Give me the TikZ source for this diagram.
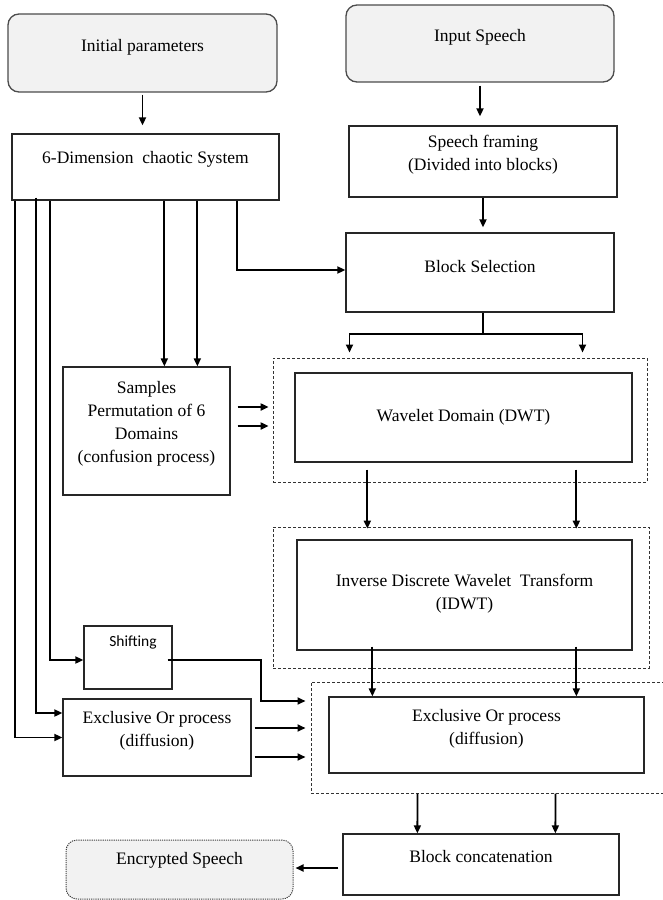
\documentclass[tikz,border=0pt]{standalone}
\usepackage{fontspec}
\setmainfont{Liberation Serif}
\newfontfamily\tnr{Liberation Serif}
\newfontfamily\calib{Carlito}
\usetikzlibrary{arrows.meta}
\begin{document}
\begin{tikzpicture}[x=1pt,y=-1pt,
 box/.style={draw=black!85, line width=1.3pt, inner sep=0pt},
 rbox/.style={box, draw=black!70, rounded corners=11pt, fill=black!5},
 ebox/.style={draw=black!75, line width=1pt, dash pattern=on 1.2pt off 1pt, rounded corners=11pt, fill=black!5, inner sep=0pt},
 grp/.style={draw=black!80, line width=1pt, dash pattern=on 3pt off 2pt, inner sep=0pt},
 lbl/.style={font=\tnr\fontsize{17.5}{23}\selectfont, align=center, inner sep=0pt},
 arr/.style={line width=1.8pt, -{Triangle[length=8pt,width=7pt]}},
 ln/.style={line width=1.8pt}]
\useasboundingbox (0,0) rectangle (662,900);

% group (dashed) boxes
\node[grp, minimum width=374pt, minimum height=124pt] (dash1) at (460,420) {};
\node[grp, minimum width=376pt, minimum height=141pt] (dash2) at (461,597.5) {};
\node[grp, minimum width=359pt, minimum height=111pt] (dash3) at (490.5,737.5) {};

% boxes
\node[rbox, minimum width=269pt, minimum height=78pt] (ip) at (142.5,53) {};
\node[lbl] (ipt) at (142.5,47) {Initial parameters};
\node[rbox, minimum width=268pt, minimum height=77pt] (is) at (480,43.5) {};
\node[lbl] (ist) at (480,37) {Input Speech};
\node[box, minimum width=267pt, minimum height=66pt] (sixd) at (145.5,167) {};
\node[lbl] (sixdt) at (145.5,159) {6-Dimension\ \ chaotic System};
\node[box, minimum width=268pt, minimum height=71pt] (sf) at (483,161.5) {};
\node[lbl] (sft) at (483,155) {Speech framing\\(Divided into blocks)};
\node[box, minimum width=268pt, minimum height=79pt] (bs) at (480,272.5) {};
\node[lbl] (bst) at (480,267) {Block Selection};
\node[box, minimum width=167pt, minimum height=128pt] (samp) at (146.5,431) {};
\node[lbl] (sampt) at (146.5,423.5) {Samples\\Permutation of 6\\Domains\\(confusion process)};
\node[box, minimum width=337pt, minimum height=89pt] (dwt) at (463.5,417.5) {};
\node[lbl] (dwtt) at (463.5,417) {Wavelet Domain (DWT)};
\node[box, minimum width=335pt, minimum height=110pt] (idwt) at (464.5,595) {};
\node[lbl] (idwtt) at (464.5,594) {Inverse Discrete Wavelet\ \ Transform\\(IDWT)};
\node[box, minimum width=88pt, minimum height=63pt] (shift) at (128,657.5) {};
\node[font=\calib\fontsize{15.5}{18}\selectfont, inner sep=0pt] (shiftt) at (133,642) {Shifting};
\node[box, minimum width=188pt, minimum height=77pt] (xorl) at (157,737.5) {};
\node[lbl] (xorlt) at (157,731) {Exclusive Or process\\(diffusion)};
\node[box, minimum width=315pt, minimum height=76pt] (xorr) at (486.5,735) {};
\node[lbl] (xorrt) at (486.5,728.5) {Exclusive Or process\\(diffusion)};
\node[box, minimum width=276pt, minimum height=61pt] (bc) at (481,864.5) {};
\node[lbl] (bct) at (481,857) {Block concatenation};
\node[ebox, minimum width=227pt, minimum height=59pt] (es) at (179.5,869.5) {};
\node[lbl] (est) at (179.5,860) {Encrypted Speech};

% connectors
\draw[arr, shorten >=8pt, shorten <=2pt] (ip.south) -- (ip.south |- sixd.north);
\draw[arr, shorten >=9pt, shorten <=3pt] (is.south) -- (is.south |- sf.north);
\draw[arr, shorten >=5pt] (sf.south) -- (sf.south |- bs.north);

\coordinate (bsb) at (sf.south |- bs.south);
\coordinate (split) at ([yshift=-21pt]bsb);
\draw[ln] (bsb) -- (split);
\draw[arr] (split) -| ([xshift=77pt,yshift=5pt]dash1.north west);
\draw[arr] (split) -| ([xshift=310pt,yshift=5pt]dash1.north west);

\draw[arr] ([xshift=4pt]sixd.south west) |- (xorl.west);
\draw[arr] ([xshift=25pt,yshift=3pt]sixd.south west) |- ([yshift=24.5pt]xorl.west);
\draw[arr] ([xshift=39pt]sixd.south west) |- ([yshift=-2.5pt]shift.west);
\draw[arr] ([xshift=153pt]sixd.south west) -- ([xshift=102pt]samp.north west);
\draw[arr] ([xshift=186pt]sixd.south west) -- ([xshift=135pt]samp.north west);
\draw[arr] ([xshift=226pt]sixd.south west) |- ([yshift=2.5pt]bs.west);

\draw[arr] ([xshift=7pt,yshift=24pt]samp.east) -- ++(31,0);
\draw[arr] ([xshift=7pt,yshift=5pt]samp.east) -- ++(31,0);

\draw[arr] ([xshift=73pt,yshift=-7pt]dwt.south west) -- ++(0,59);
\draw[arr] ([xshift=282pt,yshift=-7pt]dwt.south west) -- ++(0,59);

\draw[arr] ([xshift=76pt,yshift=4pt]idwt.south west) -- ([xshift=44pt]xorr.north west);
\draw[arr] ([xshift=280pt,yshift=4pt]idwt.south west) -- ([xshift=248pt]xorr.north west);

\draw[arr] ([xshift=-5pt,yshift=-2.5pt]shift.east) -- ++(93,0) |- ([xshift=-5pt,yshift=36.5pt]dash3.west);
\draw[arr] ([xshift=3pt,yshift=9.5pt]xorl.east) -- ([xshift=-5pt,yshift=9.5pt]dash3.west);
\draw[arr] ([xshift=3pt,yshift=-19.5pt]xorl.east) -- ([xshift=-5pt,yshift=-19.5pt]dash3.west);

\draw[arr] ([xshift=107pt]dash3.south west) -- ([xshift=75pt]bc.north west);
\draw[arr] ([xshift=245pt]dash3.south west) -- ([xshift=213pt]bc.north west);

\draw[arr] ([xshift=-4pt,yshift=-3.5pt]bc.west) -- ([xshift=2pt,yshift=1.5pt]es.east);
\end{tikzpicture}
\end{document}
